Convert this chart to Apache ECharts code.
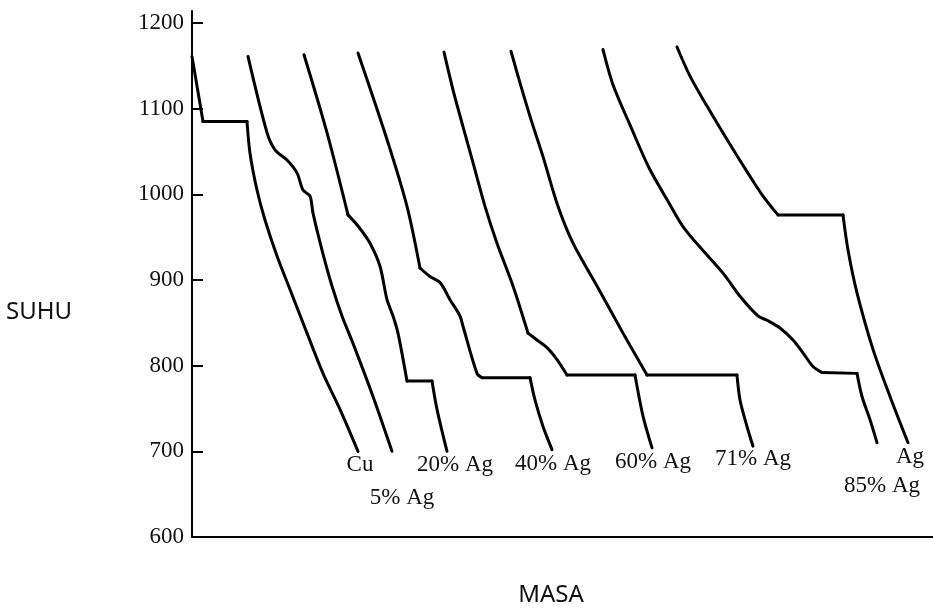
<!DOCTYPE html>
<html><head><meta charset="utf-8">
<script src="https://cdn.jsdelivr.net/npm/echarts@6/dist/echarts.min.js"></script>
<style>html,body{margin:0;padding:0;background:#fff}#c{width:933px;height:608px}</style>
</head><body><div id="c"></div>
<script>
// Tick labels of the temperature axis (SUHU)
const yTicks = [600, 700, 800, 900, 1000, 1100, 1200];
// Curve names (alloy compositions)
const seriesNames = ['Cu', '5% Ag', '20% Ag', '40% Ag', '60% Ag', '71% Ag', '85% Ag', 'Ag'];
// Cooling curves: [masa (arbitrary time units), suhu (°C)]
const cuCurve = [[0,1161],[11,1085],[55,1085],[58,1048],[65,1005],[73,970],[85,928],[98,889],[115,838],[131,791],[148,749],[166,700]];
const ag5Curve = [[56,1161],[75,1072],[83,1052],[95,1040],[105,1025],[111,1005],[118,998],[121,978],[130,935],[140,893],[150,858],[161,826],[181,764],[200,700]];
const ag20Curve = [[112,1163],[135,1072],[156,976],[166,963],[178,943],[188,916],[195,877],[201,858],[206,838],[215,782],[240,782],[245,749],[255,700]];
const ag40Curve = [[166,1165],[195,1064],[215,986],[228,914],[238,904],[248,897],[258,877],[268,858],[271,846],[285,791],[290,786],[338,786],[343,760],[351,729],[360,702]];
const ag60Curve = [[252,1166],[261,1122],[271,1079],[281,1037],[293,986],[305,943],[321,893],[336,838],[345,830],[355,821],[365,807],[375,789],[443,789],[451,741],[460,704]];
const ag71Curve = [[319,1167],[328,1130],[338,1091],[351,1044],[366,986],[381,943],[405,893],[431,838],[455,789],[545,789],[548,760],[555,729],[561,706]];
const ag85Curve = [[411,1169],[421,1128],[438,1081],[457,1031],[475,994],[493,959],[531,908],[548,881],[566,858],[575,853],[588,844],[601,830],[611,815],[621,799],[630,792],[665,791],[670,764],[678,737],[685,710]];
const agCurve = [[485,1172],[498,1138],[515,1103],[535,1064],[558,1021],[571,998],[586,976],[651,976],[656,935],[665,885],[681,819],[698,764],[716,710]];

const allCurves = [cuCurve, ag5Curve, ag20Curve, ag40Curve, ag60Curve, ag71Curve, ag85Curve, agCurve];
// indices of sharp corners (arrests / knees) where the smoothing is broken
const cornerIdx = [[1,2],[],[2,9,10],[3,10,11],[7,11,12],[8,9],[14,15],[6,7]];
// pixel offsets of each name label from its curve's end point
const labelOffsets = [[2,14],[10,47],[8,14],[1,14],[1,14],[0,13],[5,43],[2,14]];

const series = [];
allCurves.forEach((d, i) => {
  const cuts = [0, ...cornerIdx[i], d.length - 1];
  for (let k = 0; k < cuts.length - 1; k++) {
    series.push({
      type: 'line', name: seriesNames[i], data: d.slice(cuts[k], cuts[k + 1] + 1),
      showSymbol: false, symbol: 'none', smooth: 0.3,
      lineStyle: {color: '#000', width: 3, cap: 'round', join: 'round'}, z: 2
    });
  }
});

const chart = echarts.init(document.getElementById('c'), null, {renderer: 'canvas'});
chart.setOption({
  animation: false,
  backgroundColor: '#fff',
  grid: {left: 192, right: 0, top: 11, bottom: 71},
  xAxis: {
    type: 'value', min: 0, max: 741,
    axisLine: {show: true, lineStyle: {color: '#000', width: 2}},
    axisTick: {show: false}, axisLabel: {show: false}, splitLine: {show: false}
  },
  yAxis: {
    type: 'value', min: 600, max: 1214, interval: 100,
    axisLine: {show: true, lineStyle: {color: '#000', width: 2}},
    axisTick: {show: true, inside: true, length: 11, lineStyle: {color: '#000', width: 2}, customValues: yTicks},
    axisLabel: {customValues: yTicks, formatter: v => String(v), color: '#111', fontFamily: 'Liberation Serif', fontSize: 23, margin: 8},
    splitLine: {show: false}
  },
  series: series
});

const graphics = allCurves.map((d, i) => {
  const p = chart.convertToPixel({gridIndex: 0}, d[d.length - 1]);
  return {
    type: 'text',
    x: p[0] + labelOffsets[i][0], y: p[1] + labelOffsets[i][1],
    style: {text: seriesNames[i], font: '23px "Liberation Serif"', fill: '#111', align: 'center', verticalAlign: 'middle'}
  };
});
graphics.push({type: 'text', x: 39, y: 312, style: {text: 'SUHU', font: '24px "Noto Sans"', fill: '#111', align: 'center', verticalAlign: 'middle'}});
graphics.push({type: 'text', x: 551, y: 595, style: {text: 'MASA', font: '24px "Noto Sans"', fill: '#111', align: 'center', verticalAlign: 'middle'}});
chart.setOption({graphic: graphics});
</script>
</body></html>
